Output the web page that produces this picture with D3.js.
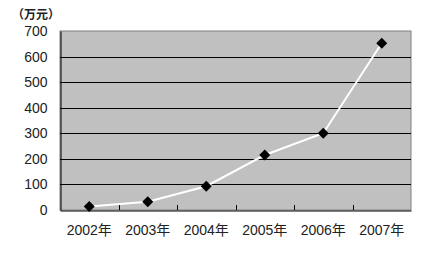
<!DOCTYPE html>
<html><head><meta charset="utf-8">
<script src="https://cdn.jsdelivr.net/npm/d3@7"></script>
<style>body{margin:0;background:#fff}svg{display:block}</style>
</head><body>
<script>
const categories = ["2002年","2003年","2004年","2005年","2006年","2007年"];
const values = [14, 32, 93, 215, 300, 652];
const yTicks = [0,100,200,300,400,500,600,700];
const unitLabel = "（万元）";

const W=425,H=257;
const m={l:60,r:14,t:31,b:47};
const svg=d3.select("body").append("svg").attr("width",W).attr("height",H);
const x=d3.scaleBand().domain(categories).range([m.l,W-m.r]);
const y=d3.scaleLinear().domain([0,700]).range([H-m.b,m.t]);
const font="'Liberation Sans','Noto Sans CJK SC',sans-serif";

svg.append("rect").attr("x",m.l).attr("y",m.t).attr("width",W-m.l-m.r).attr("height",H-m.t-m.b)
  .attr("fill","#c0c0c0").attr("stroke","#808080").attr("stroke-width",1);

svg.append("g").selectAll("line").data(yTicks.filter(d=>d>0&&d<700)).join("line")
  .attr("x1",m.l).attr("x2",W-m.r).attr("y1",d=>Math.round(y(d))+0.5).attr("y2",d=>Math.round(y(d))+0.5)
  .attr("stroke","#000").attr("stroke-width",1);

const ya=svg.append("g").attr("transform",`translate(${m.l+0.5},0)`)
  .call(d3.axisLeft(y).tickValues(yTicks).tickSize(0).tickPadding(13));
ya.select(".domain").attr("stroke","#000");
ya.selectAll("text").attr("font-family",font).attr("font-size",14).attr("fill","#222");

const xa=svg.append("g").attr("transform",`translate(0,${H-m.b+0.5})`)
  .call(d3.axisBottom(x).tickSize(0).tickPadding(15));
xa.select(".domain").attr("stroke","#000");
xa.selectAll("text").attr("font-family",font).attr("font-size",14).attr("fill","#222");
svg.append("g").selectAll("line").data(categories.slice(1)).join("line")
  .attr("x1",d=>Math.round(x(d))+0.5).attr("x2",d=>Math.round(x(d))+0.5)
  .attr("y1",H-m.b).attr("y2",H-m.b-5).attr("stroke","#000");

svg.append("text").attr("x",12).attr("y",19).text(unitLabel)
  .attr("font-family",font).attr("font-size",12).attr("font-weight","bold").attr("fill","#222");

const line=d3.line().x((d,i)=>x(categories[i])+x.bandwidth()/2).y(d=>y(d));
svg.append("path").datum(values).attr("d",line).attr("fill","none").attr("stroke","#fff").attr("stroke-width",2);

svg.append("g").selectAll("path").data(values).join("path")
  .attr("d",d3.symbol(d3.symbolSquare,60))
  .attr("transform",(d,i)=>`translate(${x(categories[i])+x.bandwidth()/2},${y(d)}) rotate(45)`)
  .attr("fill","#000");
</script>
</body></html>
